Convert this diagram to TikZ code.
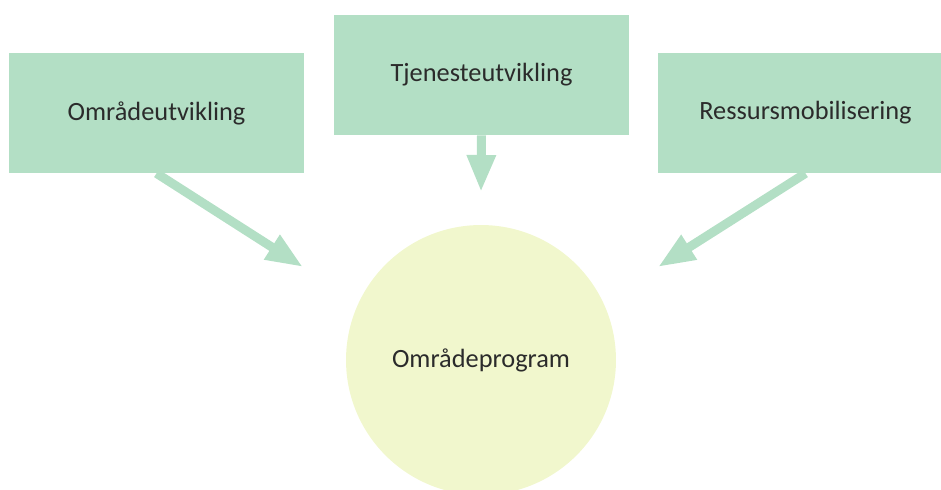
\documentclass[tikz,border=0pt]{standalone}
\usepackage{fontspec}
\setmainfont{Carlito}
\usetikzlibrary{arrows.meta}
\definecolor{boxgreen}{HTML}{B3DFC5}
\definecolor{paleyellow}{HTML}{F1F7CD}
\definecolor{textgray}{HTML}{2B2B2B}

\begin{document}
\begin{tikzpicture}[x=0.02cm,y=-0.02cm,
    area/.style={fill=boxgreen,minimum width=5.9cm,minimum height=2.4cm,
                 inner sep=0pt,text=textgray,font=\fontsize{15}{18}\selectfont},
    program/.style={circle,fill=paleyellow,minimum size=5.4cm,inner sep=0pt,
                    text=textgray,font=\fontsize{15}{18}\selectfont},
    feed/.style={draw=boxgreen,line width=0.18cm,
                 -{Triangle[length=0.74cm,width=0.54cm]}}]
  \useasboundingbox (0,0) rectangle (941,490);

  \node [area] (omr)  at (156.5,113) {Områdeutvikling};
  \node [area] (tjen) at (481.5,75)  {Tjenesteutvikling};
  \node [area] (ress) at (805.5,113) {Ressursmobilisering};

  \node [program] (prog) at (481,360) {Områdeprogram};

  \coordinate (inleft)  at (303,267);
  \coordinate (inmid)   at (481,192);
  \coordinate (inright) at (658,267);

  \draw [feed] (omr.south)  -- (inleft);
  \draw [feed] (tjen.south) -- (inmid);
  \draw [feed] (ress.south) -- (inright);

\end{tikzpicture}
\end{document}
